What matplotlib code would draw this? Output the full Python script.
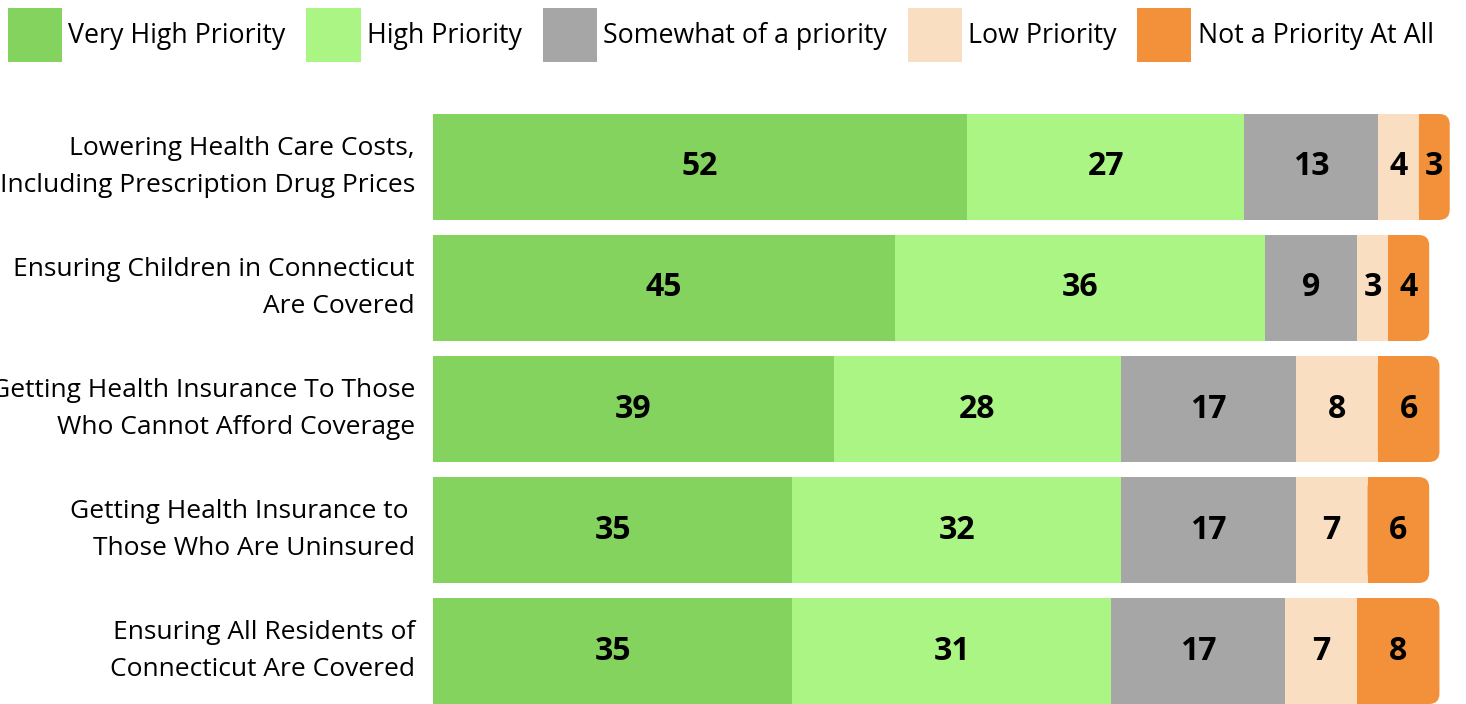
import matplotlib.pyplot as plt
from matplotlib.patches import FancyBboxPatch

plt.rcParams['font.family'] = ['Open Sans', 'DejaVu Sans']

categories = [
    'Lowering Health Care Costs,\nIncluding Prescription Drug Prices',
    'Ensuring Children in Connecticut\nAre Covered',
    'Getting Health Insurance To Those\nWho Cannot Afford Coverage',
    'Getting Health Insurance to \nThose Who Are Uninsured',
    'Ensuring All Residents of\nConnecticut Are Covered',
]
series = ['Very High Priority', 'High Priority', 'Somewhat of a priority',
          'Low Priority', 'Not a Priority At All']
very_high = [52, 45, 39, 35, 35]
high = [27, 36, 28, 32, 31]
somewhat = [13, 9, 17, 17, 17]
low = [4, 3, 8, 7, 7]
not_at_all = [3, 4, 6, 6, 8]

colors = ['#83D35E', '#AAF584', '#A6A6A6', '#F9DEC1', '#F3913A']
values = [very_high, high, somewhat, low, not_at_all]

fig = plt.figure(figsize=(14.66, 7.04), dpi=100)
ax = fig.add_axes([433 / 1466, 0, 1027 / 1466, 590 / 704])

h = 0.875
y = list(range(len(categories)))
left = [0] * len(categories)
for k, (vals, col, name) in enumerate(zip(values, colors, series)):
    last = k == len(values) - 1
    for i, v in enumerate(vals):
        if last:
            # rounded right end
            r = 1.0
            ax.barh(i, v - r, left=left[i], height=h, color=col, linewidth=0)
            ax.add_patch(FancyBboxPatch((left[i], i - h / 2), v, h,
                                        boxstyle='round,pad=0,rounding_size=%g' % r,
                                        mutation_aspect=0.085,
                                        facecolor=col, edgecolor='none'))
        else:
            ax.barh(i, v, left=left[i], height=h, color=col, linewidth=0)
        ax.text(left[i] + v / 2, i, str(v), ha='center', va='center',
                fontsize=23, fontweight='bold', color='black')
        left[i] += v
    ax.barh([0], [0], color=col, label=name)

ax.set_xlim(0, 100)
ax.set_ylim(len(categories) - 1 + 0.4375, -0.4375)
ax.set_yticks(y)
ax.set_yticklabels(categories, fontsize=19, linespacing=1.65, va='center')
ax.tick_params(axis='y', length=0, pad=13)
ax.set_xticks([])
for s in ax.spines.values():
    s.set_visible(False)

handles, labels = ax.get_legend_handles_labels()
fig.legend(handles, labels, loc='upper left', bbox_to_anchor=(8 / 1466, 1 - 8 / 704),
           ncol=5, frameon=False, fontsize=19.3, borderpad=0, borderaxespad=0,
           handlelength=2.02, handleheight=2.73, handletextpad=0.23,
           columnspacing=0.78)

fig.savefig('out.png', dpi=100)
